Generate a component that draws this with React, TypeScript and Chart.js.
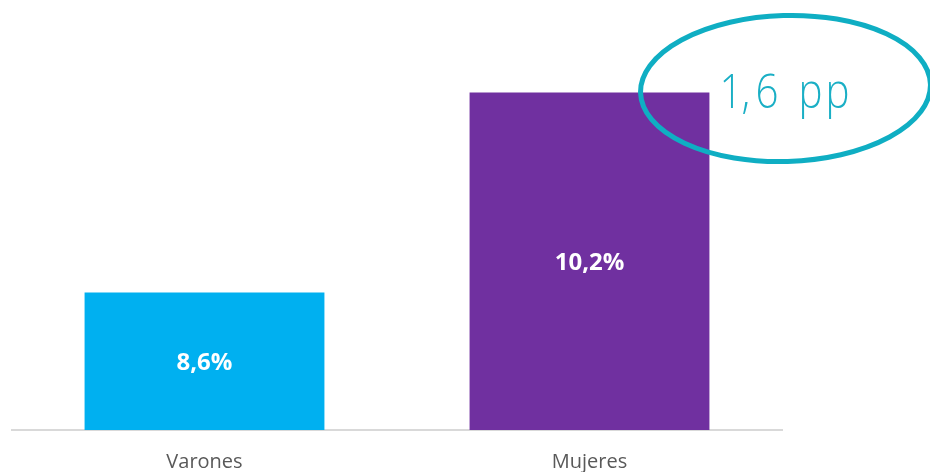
import React, { useEffect, useRef } from "react";
import { Chart, registerables } from "chart.js";

Chart.register(...registerables);

const categories = ["Varones", "Mujeres"];
const values = [8.6, 10.2];
const valueLabels = ["8,6%", "10,2%"];
const barColors = ["#00B0F0", "#7030A0"];
const gapLabel = "1,6 pp";

const overlayPlugin = {
  id: "overlay",
  afterDatasetsDraw(chart: any) {
    const ctx = chart.ctx;
    const meta = chart.getDatasetMeta(0);
    const bottom = chart.chartArea.bottom;
    ctx.save();
    ctx.fillStyle = "#FFFFFF";
    ctx.font = "bold 24px 'Open Sans', sans-serif";
    ctx.textAlign = "center";
    ctx.textBaseline = "middle";
    meta.data.forEach((bar: any, i: number) => {
      const p = bar.getProps(["x", "y"], true);
      const yMid = (p.y + bottom) / 2;
      ctx.fillText(valueLabels[i], p.x, yMid + 2);
    });
    // annotation ellipse near the taller bar
    const last = meta.data[meta.data.length - 1].getProps(["x", "y"], true);
    const cx = last.x + 196;
    const cy = last.y - 4;
    ctx.strokeStyle = "#0FAEC3";
    ctx.lineWidth = 5;
    ctx.beginPath();
    ctx.ellipse(cx, cy, 145, 73, -0.03, 0, Math.PI * 2);
    ctx.stroke();
    ctx.fillStyle = "#1AAFC5";
    ctx.font = "300 48px 'Open Sans', sans-serif";
    ctx.textAlign = "left";
    ctx.textBaseline = "alphabetic";
    const offsets = [3, 25, 39, 0, 82, 109];
    const x0 = cx - 69;
    Array.from(gapLabel).forEach((ch, i) => {
      if (ch === " ") return;
      ctx.save();
      ctx.translate(x0 + offsets[i], cy + 19);
      ctx.scale(0.84, 1);
      ctx.fillText(ch, 0, 0);
      ctx.restore();
    });
    ctx.restore();
  },
};

export default function App() {
  const ref = useRef<HTMLCanvasElement>(null);
  useEffect(() => {
    const chart = new Chart(ref.current!, {
      type: "bar",
      data: {
        labels: categories,
        datasets: [
          {
            data: values,
            backgroundColor: barColors,
            barPercentage: 0.623,
            categoryPercentage: 1,
          },
        ],
      },
      options: {
        animation: false,
        responsive: true,
        maintainAspectRatio: false,
        layout: { padding: { left: 12, right: 148, top: 0, bottom: 0 } },
        plugins: { legend: { display: false }, tooltip: { enabled: false } },
        scales: {
          x: {
            grid: { display: false, drawTicks: false },
            border: { display: true, color: "#D9D9D9", width: 2 },
            ticks: {
              color: "#595959",
              padding: 20,
              font: { size: 20, family: "'Open Sans', sans-serif" },
            },
            afterFit: (s: any) => {
              s.height = 42;
            },
          },
          y: {
            display: false,
            min: 7.5,
            max: 10.94,
          },
        },
      },
      plugins: [overlayPlugin],
    });
    return () => chart.destroy();
  }, []);
  return (
    <div style={{ position: "fixed", left: 0, top: 0, width: 930, height: 472, background: "#fff" }}>
      <canvas ref={ref} style={{ display: "block" }} />
    </div>
  );
}
